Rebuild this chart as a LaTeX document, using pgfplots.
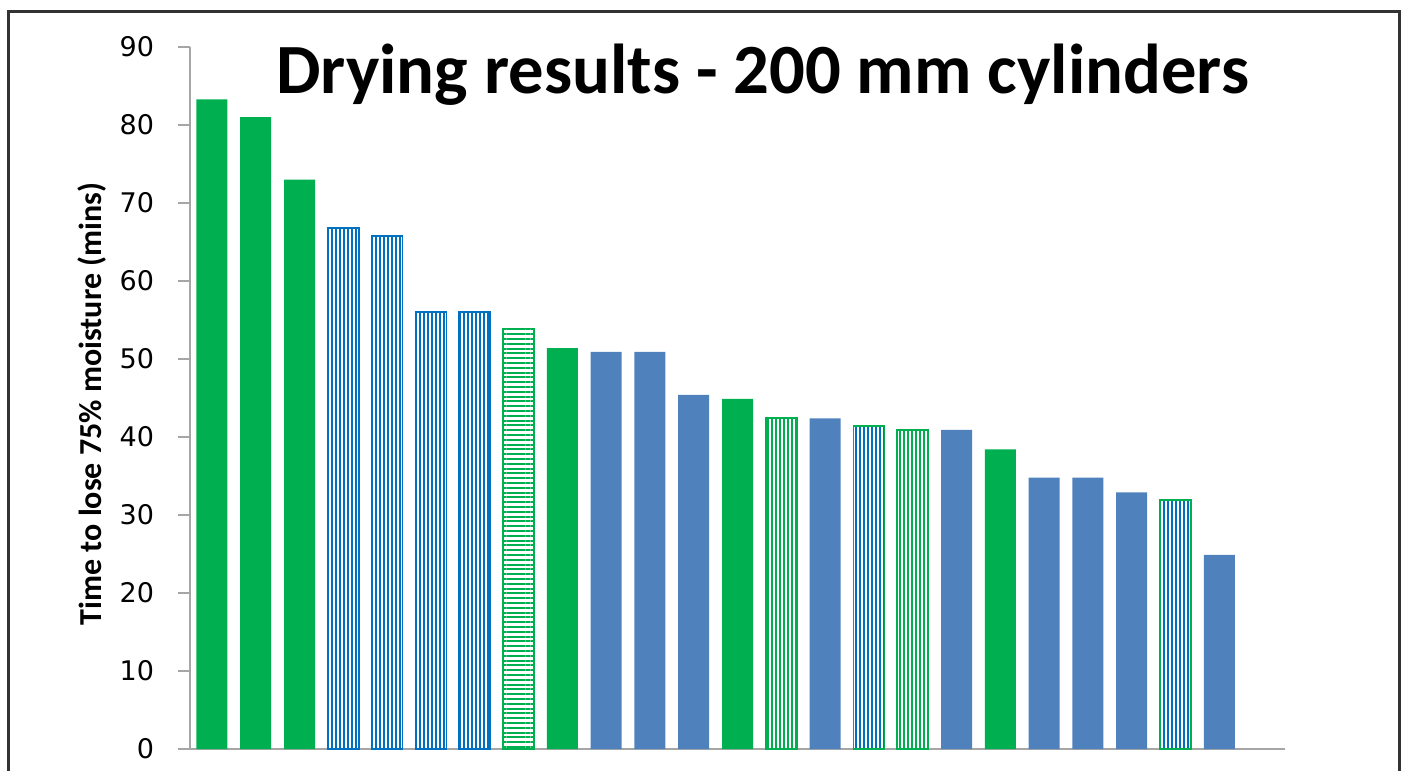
\documentclass[border=0pt]{standalone}
\usepackage{pgfplots}
\pgfplotsset{compat=1.18}
\usetikzlibrary{patterns.meta}
\usepackage{fontspec}
\setmainfont{Carlito}
\newfontfamily\tickfont{DejaVu Sans}
\definecolor{sgreen}{HTML}{00B050}
\definecolor{sblue}{HTML}{4F81BD}
\definecolor{pblue}{HTML}{0070C0}
\definecolor{axgray}{HTML}{A6A6A6}
\begin{document}
\begin{tikzpicture}[x=1bp,y=1bp]
\path[use as bounding box] (0,0) rectangle (703.5,385.5);
\draw[line width=1.5bp,color=black!80] (4,0) -- (4,379.5) -- (699.5,379.5) -- (699.5,0);
\begin{axis}[
  at={(95bp,11bp)}, anchor=south west,
  scale only axis, width=547.5bp, height=351bp,
  xmin=0.5, xmax=25.5, ymin=0, ymax=90,
  ytick={0,10,...,90}, xtick=\empty,
  axis x line*=bottom, axis y line*=left,
  axis line style={draw=axgray, line width=0.8bp},
  y axis line style={-}, x axis line style={-},
  ytick style={draw=axgray, line width=0.8bp},
  tick align=outside, major tick length=6bp,
  /pgf/number format/assume math mode=true,
  yticklabel style={font=\tickfont\fontsize{13.5bp}{16bp}\selectfont, xshift=-8.5bp},
  ylabel={Time to lose 75\% moisture (mins)},
  ylabel style={font=\bfseries\fontsize{16bp}{19bp}\selectfont, xshift=-3bp, yshift=0bp},
  ybar, bar width=15.5bp, bar shift=0pt,
  clip=false,
]
\addplot[fill=sgreen, draw=none] coordinates {(1,83.3)(2,81)(3,73)(9,51.4)(13,44.9)(19,38.4)};
\addplot[pattern={Lines[angle=90,distance=2bp,line width=1bp]}, pattern color=pblue, draw=pblue, line width=0.8bp] coordinates {(4,66.8)(5,65.8)(6,56)(7,56)};
\addplot[pattern={Lines[angle=0,distance=2.4bp,line width=1bp]}, pattern color=sgreen, draw=sgreen, line width=0.8bp] coordinates {(8,53.9)};
\addplot[fill=sblue, draw=none] coordinates {(10,50.9)(11,50.9)(12,45.4)(15,42.4)(18,40.9)(20,34.8)(21,34.8)(22,32.9)(24,24.9)};
\addplot[pattern={Lines[angle=90,distance=2bp,line width=1bp]}, pattern color=sgreen, draw=sgreen, line width=0.8bp] coordinates {(14,42.4)(17,40.9)};
\addplot[pattern={Lines[angle=90,distance=2bp,line width=1bp]}, pattern color=pblue, draw=sgreen, line width=0.8bp] coordinates {(16,41.4)(23,31.9)};
\node[anchor=base, font=\bfseries\fontsize{35.3bp}{42bp}\selectfont] at (rel axis cs:0.523,0.9345) {Drying results - 200 mm cylinders};
\end{axis}
\end{tikzpicture}
\end{document}
